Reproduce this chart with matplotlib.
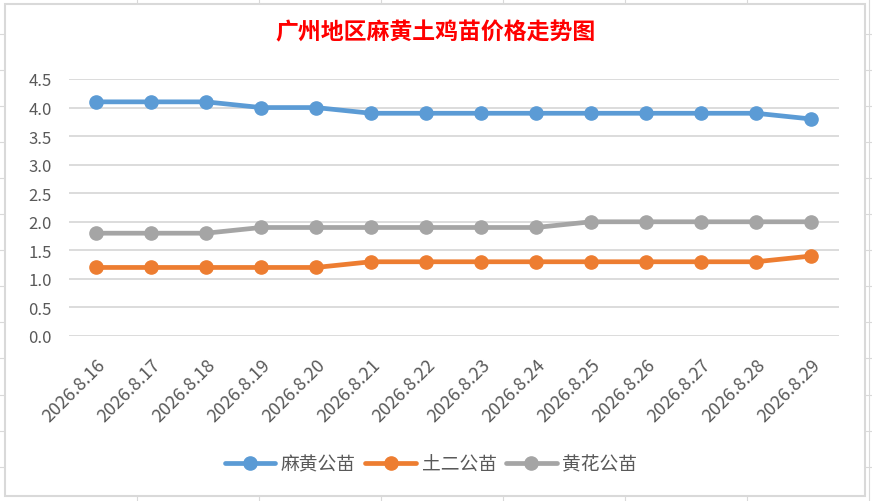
import matplotlib
matplotlib.use("Agg")
import matplotlib.pyplot as plt
from matplotlib.lines import Line2D
from matplotlib.patches import Rectangle

plt.rcParams['font.family'] = ['Noto Sans CJK SC', 'DejaVu Sans']

dates = ["2026.8.16", "2026.8.17", "2026.8.18", "2026.8.19", "2026.8.20", "2026.8.21", "2026.8.22",
         "2026.8.23", "2026.8.24", "2026.8.25", "2026.8.26", "2026.8.27", "2026.8.28", "2026.8.29"]
mahuang = [4.1, 4.1, 4.1, 4.0, 4.0, 3.9, 3.9, 3.9, 3.9, 3.9, 3.9, 3.9, 3.9, 3.8]
tuer = [1.2, 1.2, 1.2, 1.2, 1.2, 1.3, 1.3, 1.3, 1.3, 1.3, 1.3, 1.3, 1.3, 1.4]
huanghua = [1.8, 1.8, 1.8, 1.9, 1.9, 1.9, 1.9, 1.9, 1.9, 2.0, 2.0, 2.0, 2.0, 2.0]
series_names = ["麻黄公苗", "土二公苗", "黄花公苗"]
yticks = [0.0, 0.5, 1.0, 1.5, 2.0, 2.5, 3.0, 3.5, 4.0, 4.5]
title = "广州地区麻黄土鸡苗价格走势图"

W, H = 872, 502
fig = plt.figure(figsize=(W / 100, H / 100), dpi=100)

# background spreadsheet grid
for xg in [137, 259, 381, 503, 625, 747, 869]:
    fig.add_artist(Line2D([xg / W, xg / W], [0, 1], color="#d9d9d9", lw=0.8, zorder=0))
for yg in [35, 71, 107, 143, 179, 215, 251, 287, 323, 359, 396, 432, 468]:
    fig.add_artist(Line2D([0, 1], [1 - yg / H, 1 - yg / H], color="#d9d9d9", lw=0.8, zorder=0))
# chart area
fig.add_artist(Rectangle((5 / W, 1 - 497 / H), 860 / W, 492 / H, facecolor="white",
                         edgecolor="#d9d9d9", lw=1.5, zorder=1))

ax = fig.add_axes([68.5 / W, 1 - 337 / H, (838.5 - 68.5) / W, (337 - 80) / H])
ax.set_zorder(2)
ax.patch.set_alpha(0)
x = list(range(len(dates)))
colors = ["#5B9BD5", "#ED7D31", "#A5A5A5"]
for vals, name, c in zip([mahuang, tuer, huanghua], series_names, colors):
    ax.plot(x, vals, color=c, lw=3.4, marker="o", markersize=9.5, label=name, solid_capstyle="round")

ax.set_xlim(-0.5, len(dates) - 0.5)
ax.set_ylim(0, 4.5)
ax.set_yticks(yticks)
ax.set_yticklabels([f"{v:.1f}" for v in yticks])
ax.set_xticks(x)
ax.set_xticklabels(dates, rotation=45, ha="right", rotation_mode="anchor")
ax.grid(axis="y", color="#d9d9d9", lw=1.3)
ax.set_axisbelow(True)
for s in ax.spines.values():
    s.set_visible(False)
ax.tick_params(axis="both", length=0, colors="#595959", labelsize=12)
ax.tick_params(axis="x", labelsize=13, pad=14)
ax.tick_params(axis="y", pad=12)

fig.text(436 / W, 1 - 33 / H, title, color="#ff0000", fontsize=16.5, fontweight="bold",
         ha="center", va="center", zorder=3)

leg = fig.legend(loc="center", bbox_to_anchor=(431 / W, 1 - 465 / H), ncol=3, frameon=False,
                 fontsize=13.5, labelcolor="#595959", handlelength=2.7, columnspacing=0.5,
                 handletextpad=0.3)
leg.set_zorder(3)

fig.savefig("out.png", dpi=100)
